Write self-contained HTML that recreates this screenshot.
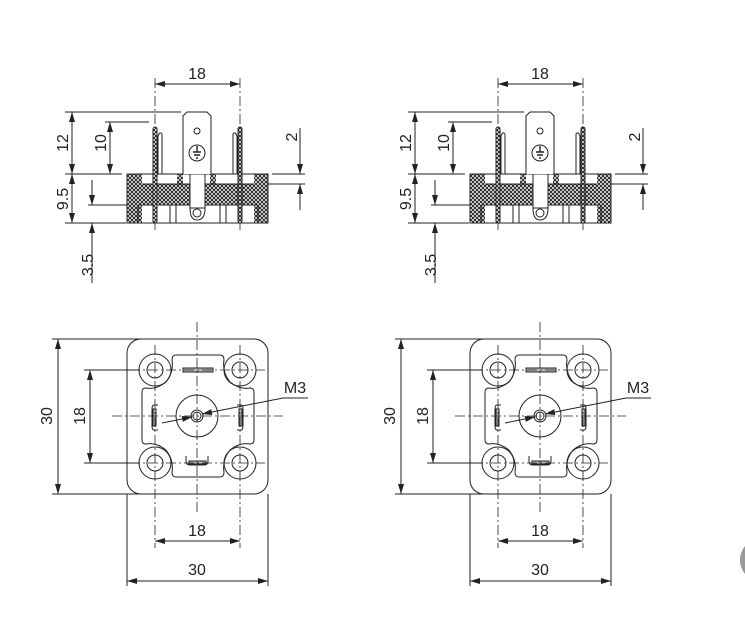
<!DOCTYPE html>
<html><head><meta charset="utf-8"><style>
html,body{margin:0;padding:0;background:#fff;width:745px;height:619px;overflow:hidden}
svg{display:block}
text{font-family:"Liberation Sans",sans-serif;font-size:16px;fill:#222}
</style></head><body>
<svg width="745" height="619" viewBox="0 0 745 619" xmlns="http://www.w3.org/2000/svg">
<defs>
<pattern id="h" width="4" height="4" patternUnits="userSpaceOnUse">
<rect width="4" height="4" fill="#fff"/>
<path d="M0,0L4,4M4,0L0,4" stroke="#222" stroke-width="1"/>
</pattern>
<marker id="a" viewBox="0 0 10 6" refX="10" refY="3" markerWidth="10" markerHeight="6" orient="auto-start-reverse" markerUnits="userSpaceOnUse">
<path d="M0,0L10,3L0,6z" fill="#222"/>
</marker>
<g id="fig" stroke="#222" fill="none" stroke-width="1">
 <g stroke-dasharray="10,3,2,3" stroke-width="0.8">
  <line x1="155" y1="78" x2="155" y2="230"/><line x1="240" y1="78" x2="240" y2="230"/>
 </g>
 <line x1="155" y1="84" x2="240" y2="84" marker-start="url(#a)" marker-end="url(#a)"/>
 <rect x="127" y="174" width="15" height="49" fill="url(#h)" stroke="none"/>
 <rect x="254" y="174" width="14" height="49" fill="url(#h)" stroke="none"/>
 <rect x="127" y="184" width="63" height="21" fill="url(#h)" stroke="none"/>
 <rect x="205" y="184" width="63" height="21" fill="url(#h)" stroke="none"/>
 <rect x="177" y="174" width="6" height="10" fill="url(#h)" stroke="none"/>
 <rect x="210" y="174" width="6" height="10" fill="url(#h)" stroke="none"/>
 <rect x="127" y="174" width="141" height="49"/>
 <line x1="142" y1="184" x2="254" y2="184"/>
 <line x1="138" y1="205" x2="258" y2="205"/>
 <line x1="138" y1="205" x2="138" y2="223"/><line x1="258" y1="205" x2="258" y2="223"/>
 <line x1="170" y1="205" x2="170" y2="223"/><line x1="176" y1="205" x2="176" y2="223"/>
 <line x1="220" y1="205" x2="220" y2="223"/><line x1="226" y1="205" x2="226" y2="223"/>
 <rect x="190" y="174" width="15" height="34" fill="#fff"/>
 <circle cx="197" cy="213" r="4"/>
 <path d="M190,208 Q190,220 197,220 Q205,220 205,208" />
 <path d="M183,174 V116 L187,112 H207 L211,116 V174" fill="#fff"/>
 <circle cx="197" cy="131" r="3"/>
 <circle cx="197" cy="153" r="8"/>
 <path d="M193,152H201M194,155H200M196,158H198M197,146V152" stroke-width="1.4"/>
 <rect x="153" y="127" width="4" height="96" rx="2" fill="url(#h)"/>
 <rect x="238" y="127" width="4" height="96" rx="2" fill="url(#h)"/>
 <path d="M158,174V136Q160,131 162,134V174"/>
 <path d="M237,174V136Q235,131 233,134V174"/>
 <line x1="65" y1="112" x2="181" y2="112"/>
 <line x1="105" y1="122" x2="149" y2="122"/>
 <line x1="65" y1="174" x2="122" y2="174"/>
 <line x1="88" y1="205" x2="127" y2="205"/>
 <line x1="65" y1="223" x2="126" y2="223"/>
 <line x1="72" y1="112" x2="72" y2="174" marker-start="url(#a)" marker-end="url(#a)"/>
 <line x1="72" y1="174" x2="72" y2="223" marker-start="url(#a)" marker-end="url(#a)"/>
 <line x1="110" y1="122" x2="110" y2="174" marker-start="url(#a)" marker-end="url(#a)"/>
 <line x1="92" y1="180" x2="92" y2="205" marker-end="url(#a)"/>
 <line x1="92" y1="283" x2="92" y2="223" marker-end="url(#a)"/>
 <line x1="272" y1="174" x2="305" y2="174"/>
 <line x1="268" y1="184" x2="305" y2="184"/>
 <line x1="300" y1="128" x2="300" y2="174" marker-end="url(#a)"/>
 <line x1="300" y1="210" x2="300" y2="184" marker-end="url(#a)"/>

 <rect x="127" y="339" width="141" height="155" rx="14"/>
 <path d="M176,355 H220 Q224,355 224,360 Q222,372 230,382 Q240,390 250,388 Q254,388 254,392 V440 Q254,444 250,444 Q240,442 230,450 Q222,460 224,472 Q224,477 220,477 H176 Q172,477 172,472 Q174,460 166,450 Q156,442 146,444 Q142,444 142,440 V392 Q142,388 146,388 Q156,390 166,382 Q174,372 172,360 Q172,355 176,355Z"/>
 <g>
  <circle cx="155" cy="370" r="16"/><circle cx="155" cy="370" r="8"/>
  <circle cx="240" cy="370" r="16"/><circle cx="240" cy="370" r="8"/>
  <circle cx="155" cy="463" r="16"/><circle cx="155" cy="463" r="8"/>
  <circle cx="240" cy="463" r="16"/><circle cx="240" cy="463" r="8"/>
 </g>
 <circle cx="197" cy="416" r="21"/>
 <circle cx="197" cy="416" r="6"/><circle cx="197" cy="416" r="4"/>
 <rect x="183" y="368" width="30" height="4" fill="#bbb"/>
 <path d="M158,405H154Q152,405 152,409V426Q152,430 154,430H158"/>
 <rect x="153" y="409" width="3" height="17" fill="#bbb"/>
 <path d="M237,405H241Q243,405 243,409V426Q243,430 241,430H237"/>
 <rect x="239" y="409" width="3" height="17" fill="#bbb"/>
 <path d="M186,456V461Q186,465 190,465H204Q208,465 208,461V456"/>
 <rect x="189" y="461" width="17" height="3" fill="#bbb"/>
 <g stroke-dasharray="10,3,2,3" stroke-width="0.8">
  <line x1="112" y1="416" x2="283" y2="416"/>
  <line x1="197" y1="322" x2="197" y2="514"/>
  <line x1="155" y1="345" x2="155" y2="548"/><line x1="240" y1="345" x2="240" y2="548"/>
  <line x1="130" y1="370" x2="265" y2="370"/><line x1="130" y1="463" x2="265" y2="463"/>
 </g>
 <line x1="84" y1="370" x2="140" y2="370"/><line x1="84" y1="463" x2="140" y2="463"/>
 <line x1="52" y1="339" x2="168" y2="339"/><line x1="52" y1="494" x2="172" y2="494"/>
 <line x1="58" y1="339" x2="58" y2="494" marker-start="url(#a)" marker-end="url(#a)"/>
 <line x1="90" y1="370" x2="90" y2="463" marker-start="url(#a)" marker-end="url(#a)"/>
 <line x1="127" y1="494" x2="127" y2="586"/><line x1="268" y1="494" x2="268" y2="586"/>
 <line x1="155" y1="541" x2="240" y2="541" marker-start="url(#a)" marker-end="url(#a)"/>
 <line x1="127" y1="581" x2="268" y2="581" marker-start="url(#a)" marker-end="url(#a)"/>
 <line x1="162" y1="423" x2="192" y2="417" marker-end="url(#a)"/>
 <line x1="283" y1="398" x2="202" y2="414" marker-end="url(#a)"/>
 <line x1="283" y1="398" x2="308" y2="398"/>
</g>
</defs>
<use href="#fig"/>
<use href="#fig" x="343"/>
<g>
 <text x="197" y="79" text-anchor="middle">18</text>
 <text x="197" y="536" text-anchor="middle">18</text>
 <text x="197" y="575" text-anchor="middle">30</text>
 <text x="295" y="393" text-anchor="middle" font-size="17">M3</text>
 <text transform="translate(68,143) rotate(-90)" text-anchor="middle">12</text>
 <text transform="translate(106,143) rotate(-90)" text-anchor="middle">10</text>
 <text transform="translate(68,199) rotate(-90)" text-anchor="middle">9.5</text>
 <text transform="translate(93,265) rotate(-90)" text-anchor="middle">3.5</text>
 <text transform="translate(297,137) rotate(-90)" text-anchor="middle">2</text>
 <text transform="translate(52,416) rotate(-90)" text-anchor="middle">30</text>
 <text transform="translate(85,416) rotate(-90)" text-anchor="middle">18</text>
</g>
<g transform="translate(343,0)">
 <text x="197" y="79" text-anchor="middle">18</text>
 <text x="197" y="536" text-anchor="middle">18</text>
 <text x="197" y="575" text-anchor="middle">30</text>
 <text x="295" y="393" text-anchor="middle" font-size="17">M3</text>
 <text transform="translate(68,143) rotate(-90)" text-anchor="middle">12</text>
 <text transform="translate(106,143) rotate(-90)" text-anchor="middle">10</text>
 <text transform="translate(68,199) rotate(-90)" text-anchor="middle">9.5</text>
 <text transform="translate(93,265) rotate(-90)" text-anchor="middle">3.5</text>
 <text transform="translate(297,137) rotate(-90)" text-anchor="middle">2</text>
 <text transform="translate(52,416) rotate(-90)" text-anchor="middle">30</text>
 <text transform="translate(85,416) rotate(-90)" text-anchor="middle">18</text>
</g>
<circle cx="762" cy="560" r="22" fill="#999"/>
</svg>
</body></html>
